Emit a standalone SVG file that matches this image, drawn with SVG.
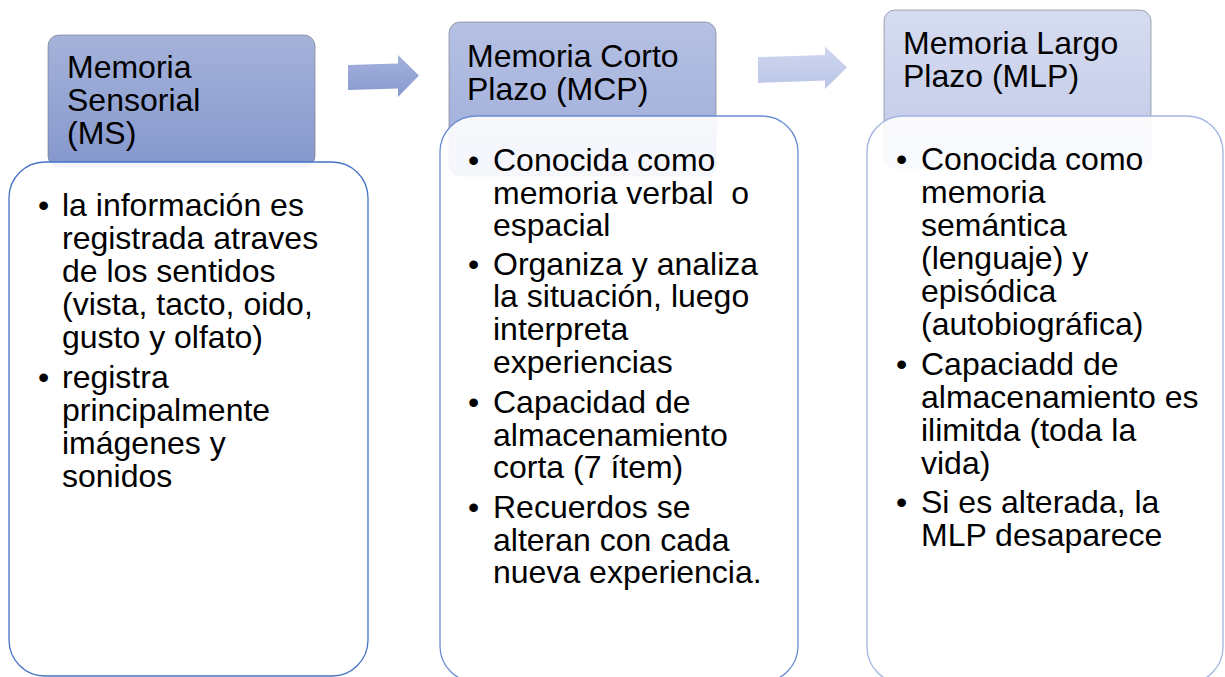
<svg xmlns="http://www.w3.org/2000/svg" width="1225" height="677" viewBox="0 0 1225 677">
<defs>
<linearGradient id="g1" x1="0" y1="0" x2="0" y2="1"><stop offset="0" stop-color="#a5b3da"/><stop offset="1" stop-color="#8597cd"/></linearGradient>
<linearGradient id="g2" x1="0" y1="0" x2="0" y2="1"><stop offset="0" stop-color="#b5c0e3"/><stop offset="1" stop-color="#9eacd9"/></linearGradient>
<linearGradient id="g3" x1="0" y1="0" x2="0" y2="1"><stop offset="0" stop-color="#d6dcf0"/><stop offset="1" stop-color="#bfc8e7"/></linearGradient>
<linearGradient id="ga1" x1="0" y1="0" x2="0" y2="1"><stop offset="0" stop-color="#a3b1dc"/><stop offset="1" stop-color="#8899cf"/></linearGradient>
<linearGradient id="ga2" x1="0" y1="0" x2="0" y2="1"><stop offset="0" stop-color="#cfd6ef"/><stop offset="1" stop-color="#bac5e7"/></linearGradient>
</defs>
<style>
.hdr{stroke:#6f7482;stroke-opacity:0.6;stroke-width:1}
.body{fill:#ffffff;fill-opacity:0.9;stroke-width:1.3}
.t{font-family:"Liberation Sans",Arial,sans-serif;font-size:32px;fill:#000000}
</style>
<rect width="1225" height="677" fill="#ffffff"/>
<g id="connectors">
<polygon points="348,65 398,63.5 398,55 419,75.5 398,97 398,88.5 348,90" fill="url(#ga1)"/>
<polygon points="758,57 825,55 825,46.5 847,67.5 825,89 825,80.5 758,83" fill="url(#ga2)"/>
</g>
<g id="node-ms">
<rect class="hdr" x="48" y="35" width="267" height="132" rx="11" fill="url(#g1)"/>
<text class="t" x="67" y="78">Memoria</text>
<text class="t" x="67" y="111">Sensorial</text>
<text class="t" x="67" y="144">(MS)</text>
<rect class="body" x="9" y="162" width="359" height="514" rx="36" stroke="#4472c4"/>
<text class="t" x="38" y="216">•</text>
<text class="t" x="62" y="216">la información es</text>
<text class="t" x="62" y="249">registrada atraves</text>
<text class="t" x="62" y="282">de los sentidos</text>
<text class="t" x="62" y="315">(vista, tacto, oido,</text>
<text class="t" x="62" y="348">gusto y olfato)</text>
<text class="t" x="38" y="388">•</text>
<text class="t" x="62" y="388">registra</text>
<text class="t" x="62" y="421">principalmente</text>
<text class="t" x="62" y="454">imágenes y</text>
<text class="t" x="62" y="487">sonidos</text>
</g>
<g id="node-mcp">
<rect class="hdr" x="449" y="22" width="267" height="154" rx="11" fill="url(#g2)"/>
<text class="t" x="467" y="67">Memoria Corto</text>
<text class="t" x="467" y="100">Plazo (MCP)</text>
<rect class="body" x="440" y="116" width="358" height="566" rx="36" stroke="#6a8cd2"/>
<text class="t" x="468" y="171">•</text>
<text class="t" x="493" y="171">Conocida como</text>
<text class="t" x="493" y="204" xml:space="preserve">memoria verbal  o</text>
<text class="t" x="493" y="236">espacial</text>
<text class="t" x="468" y="275">•</text>
<text class="t" x="493" y="275">Organiza y analiza</text>
<text class="t" x="493" y="307">la situación, luego</text>
<text class="t" x="493" y="340">interpreta</text>
<text class="t" x="493" y="373">experiencias</text>
<text class="t" x="468" y="413">•</text>
<text class="t" x="493" y="413">Capacidad de</text>
<text class="t" x="493" y="446">almacenamiento</text>
<text class="t" x="493" y="478">corta (7 ítem)</text>
<text class="t" x="468" y="518">•</text>
<text class="t" x="493" y="518">Recuerdos se</text>
<text class="t" x="493" y="551">alteran con cada</text>
<text class="t" x="493" y="583">nueva experiencia.</text>
</g>
<g id="node-mlp">
<rect class="hdr" x="884" y="10" width="267" height="158" rx="11" fill="url(#g3)"/>
<text class="t" x="903" y="54">Memoria Largo</text>
<text class="t" x="903" y="87">Plazo (MLP)</text>
<rect class="body" x="867" y="116" width="356" height="567" rx="36" stroke="#a2b4e2"/>
<text class="t" x="896" y="170">•</text>
<text class="t" x="921" y="170">Conocida como</text>
<text class="t" x="921" y="203">memoria</text>
<text class="t" x="921" y="236">semántica</text>
<text class="t" x="921" y="269">(lenguaje) y</text>
<text class="t" x="921" y="302">episódica</text>
<text class="t" x="921" y="335">(autobiográfica)</text>
<text class="t" x="896" y="375">•</text>
<text class="t" x="921" y="375">Capaciadd de</text>
<text class="t" x="921" y="408">almacenamiento es</text>
<text class="t" x="921" y="441">ilimitda (toda la</text>
<text class="t" x="921" y="474">vida)</text>
<text class="t" x="896" y="513">•</text>
<text class="t" x="921" y="513">Si es alterada, la</text>
<text class="t" x="921" y="546">MLP desaparece</text>
</g>
</svg>
